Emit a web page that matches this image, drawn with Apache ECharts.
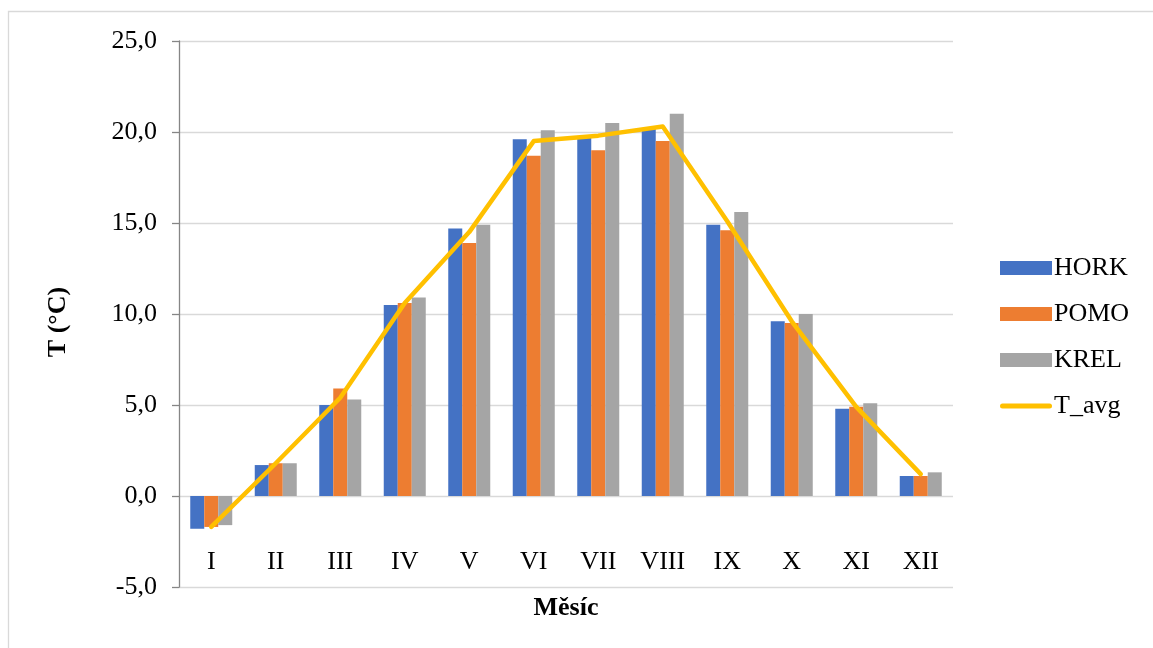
<!DOCTYPE html>
<html>
<head>
<meta charset="utf-8">
<script src="https://cdn.jsdelivr.net/npm/echarts@6/dist/echarts.min.js"></script>
<style>
  html, body { margin: 0; padding: 0; background: #fff; overflow: hidden; }
  #chart { width: 1153px; height: 648px; }
</style>
</head>
<body>
<div id="chart"></div>
<script>
// Monthly mean temperatures (°C) at three stations and their average
const months = ['I', 'II', 'III', 'IV', 'V', 'VI', 'VII', 'VIII', 'IX', 'X', 'XI', 'XII'];
const hork = [-1.8, 1.7, 5.0, 10.5, 14.7, 19.6, 19.7, 20.2, 14.9, 9.6, 4.8, 1.1];
const pomo = [-1.7, 1.8, 5.9, 10.6, 13.9, 18.7, 19.0, 19.5, 14.6, 9.5, 4.9, 1.1];
const krel = [-1.6, 1.8, 5.3, 10.9, 14.9, 20.1, 20.5, 21.0, 15.6, 10.0, 5.1, 1.3];
const tAvg = [-1.7, 1.8, 5.4, 10.6, 14.5, 19.5, 19.8, 20.3, 15.1, 9.6, 4.9, 1.2];
const yTicks = { min: -5, max: 25, step: 5 };

const serif = '"Liberation Serif", "Times New Roman", serif';
const chart = echarts.init(document.getElementById('chart'), null, { renderer: 'canvas' });

const barSeries = (name, data, color) => ({
  name, type: 'bar', data,
  barWidth: 14, barGap: '0%',
  itemStyle: { color },
  emphasis: { disabled: true }
});

// rounded thick stroke used as the legend marker of the average line
const lineIcon = 'path://M2.5,0 L49.5,0 A2.5,2.5 0 0 1 49.5,5 L2.5,5 A2.5,2.5 0 0 1 2.5,0 Z';

chart.setOption({
  animation: false,
  backgroundColor: '#ffffff',
  grid: { left: 179, right: 200, top: 41, bottom: 61, containLabel: false, outerBoundsMode: 'none' },
  legend: {
    orient: 'vertical',
    left: 995, top: 250,
    itemWidth: 52, itemHeight: 14, itemGap: 20,
    textStyle: { fontFamily: serif, fontSize: 26, color: '#000', padding: [0, 0, 0, -3] },
    data: [
      { name: 'HORK', icon: 'rect' },
      { name: 'POMO', icon: 'rect' },
      { name: 'KREL', icon: 'rect' },
      { name: 'T_avg', icon: lineIcon, symbolKeepAspect: true, itemStyle: { color: '#FFC000' } }
    ]
  },
  xAxis: {
    type: 'category',
    data: months,
    axisLine: { onZero: false, show: false },
    axisTick: { show: false },
    axisLabel: { inside: true, margin: 12, fontFamily: serif, fontSize: 26, color: '#000' }
  },
  yAxis: {
    type: 'value',
    min: yTicks.min, max: yTicks.max, interval: yTicks.step,
    axisLine: { show: true, lineStyle: { color: '#868686', width: 1.3 } },
    axisTick: { show: true, length: 7, lineStyle: { color: '#868686', width: 1.3 } },
    splitLine: { lineStyle: { color: '#d9d9d9', width: 1.3 } },
    axisLabel: {
      margin: 22, fontFamily: serif, fontSize: 26, color: '#000',
      formatter: v => v.toFixed(1).replace('.', ',')
    }
  },
  graphic: [
    {
      type: 'rect', silent: true, z: -1,
      shape: { x: 8.5, y: 11.5, width: 1300, height: 800 },
      style: { fill: 'none', stroke: '#d9d9d9', lineWidth: 1.3 }
    },
    {
      type: 'text', x: 58, y: 322, rotation: Math.PI / 2,
      style: {
        text: 'T (°C)', font: 'bold 26px ' + serif, fill: '#000',
        textAlign: 'center', textVerticalAlign: 'middle'
      }
    },
    {
      type: 'text', x: 566, y: 608,
      style: {
        text: 'Měsíc', font: 'bold 26px ' + serif, fill: '#000',
        textAlign: 'center', textVerticalAlign: 'middle'
      }
    }
  ],
  series: [
    barSeries('HORK', hork, '#4472C4'),
    barSeries('POMO', pomo, '#ED7D31'),
    barSeries('KREL', krel, '#A5A5A5'),
    {
      name: 'T_avg', type: 'line', data: tAvg,
      symbol: 'none', showSymbol: false,
      lineStyle: { color: '#FFC000', width: 4.5, cap: 'round', join: 'round' },
      itemStyle: { color: '#FFC000' },
      emphasis: { disabled: true },
      z: 3
    }
  ]
});
</script>
</body>
</html>
